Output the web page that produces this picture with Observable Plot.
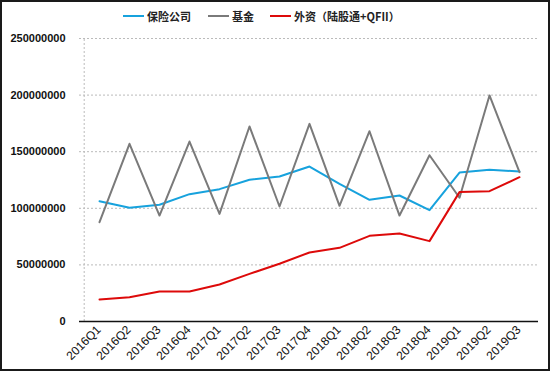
<!DOCTYPE html>
<html>
<head>
<meta charset="utf-8">
<script src="https://cdn.jsdelivr.net/npm/d3@7"></script>
<script src="https://cdn.jsdelivr.net/npm/@observablehq/plot@0.6"></script>
<style>
  html, body { margin: 0; padding: 0; background: #fff; }
  #wrap { position: relative; width: 550px; height: 371px; overflow: hidden; background: #fff; }
  #frame { position: absolute; left: 0; top: 0; width: 550px; height: 371px; box-sizing: border-box; border: 2px solid #1a1a1a; pointer-events: none; }
  #legend { position: absolute; top: 8px; left: 0; width: 550px; height: 16px; font-family: "Noto Sans CJK SC", "Noto Sans", sans-serif; font-size: 11px; font-weight: bold; color: #222; }
  .item { position: absolute; top: 0; display: flex; align-items: center; height: 16px; }
  .sw { width: 21px; height: 2px; margin-right: 3px; }
</style>
</head>
<body>
<div id="wrap">
  <div id="chart"></div>
  <div id="legend"></div>
  <div id="frame"></div>
</div>
<script>
const quarters = ["2016Q1","2016Q2","2016Q3","2016Q4","2017Q1","2017Q2","2017Q3","2017Q4","2018Q1","2018Q2","2018Q3","2018Q4","2019Q1","2019Q2","2019Q3"];
const insurance = [106300000,100400000,103100000,112500000,116900000,125200000,128100000,136900000,121600000,107500000,111300000,98300000,131600000,134000000,132500000];
const fund = [87700000,157000000,93600000,159000000,95100000,172300000,101600000,174600000,102200000,168100000,93600000,146900000,109300000,199700000,131900000];
const foreign = [19400000,21500000,26500000,26500000,32700000,42100000,51000000,61000000,65100000,75700000,77700000,71000000,114300000,115100000,127500000];
const seriesNames = ["保险公司","基金","外资（陆股通+QFII）"];
const seriesColors = ["#17a2dd","#7a7a7a","#dd0a0a"];
const yTicks = [0,50000000,100000000,150000000,200000000,250000000];

const rows = [];
[insurance, fund, foreign].forEach((arr, si) => {
  arr.forEach((v, i) => rows.push({q: quarters[i], v, s: seriesNames[si]}));
});

const plot = Plot.plot({
  width: 550,
  height: 371,
  marginLeft: 79,
  marginRight: 12,
  marginTop: 38,
  marginBottom: 50,
  style: {fontFamily: "'Liberation Sans', Arial, sans-serif", fontSize: "11px", color: "#111", background: "#fff"},
  x: {type: "point", domain: quarters, padding: 0.5, axis: null},
  y: {domain: [0, 250000000]},
  color: {domain: seriesNames, range: seriesColors},
  marks: [
    Plot.gridY(yTicks.filter(d => d > 0), {stroke: "#bbb", strokeOpacity: 1, strokeDasharray: "2,2"}),
    Plot.ruleX([quarters[0]], {dx: -15.3, y1: 0, y2: 250000000, stroke: "#bbb", strokeDasharray: "2,2"}),
    Plot.ruleY([0], {stroke: "#111", strokeWidth: 1.5}),
    Plot.axisY({ticks: yTicks, tickSize: 0, tickPadding: 14, tickFormat: d3.format("d"), label: null, fontWeight: "bold"}),
    Plot.text(quarters, {x: d => d, frameAnchor: "bottom", dy: 9, dx: 2, rotate: -45, textAnchor: "end", fontSize: 12, fill: "#111"}),
    Plot.line(rows, {x: "q", y: "v", z: "s", stroke: "s", strokeWidth: 2})
  ]
});
document.getElementById("chart").appendChild(plot);

const legend = document.getElementById("legend");
const lefts = [123, 208, 270];
seriesNames.forEach((n, i) => {
  const it = document.createElement("div");
  it.className = "item";
  it.style.left = lefts[i] + "px";
  const sw = document.createElement("div");
  sw.className = "sw";
  sw.style.background = seriesColors[i];
  const t = document.createElement("span");
  t.textContent = n;
  it.appendChild(sw); it.appendChild(t);
  legend.appendChild(it);
});
</script>
</body>
</html>
